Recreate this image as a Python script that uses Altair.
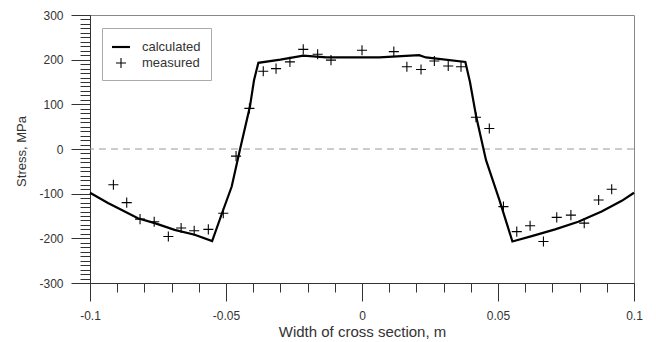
import altair as alt
import pandas as pd

# calculated stress profile
calc_x = [-0.1, -0.0934, -0.0885, -0.0824, -0.0762, -0.0689, -0.0615, -0.0551,
          -0.051, -0.0479, -0.0449, -0.0412, -0.0397, -0.0381,
          -0.030, -0.0216, -0.013, 0.0064, 0.021, 0.0235, 0.038,
          0.0397, 0.042, 0.0456, 0.0505, 0.0553,
          0.0624, 0.071, 0.0795, 0.0881, 0.0955, 0.1]
calc_y = [-98, -121, -136, -155, -166, -181, -192, -206,
          -136, -84, -2, 95, 154, 193,
          200, 209, 205, 205, 210, 205, 195,
          150, 72, -25, -114, -207,
          -195, -180, -163, -140, -116, -98]

# measured stress values
meas_x = [-0.0914, -0.0865, -0.0816, -0.0764, -0.0712, -0.0665, -0.0617, -0.0565, -0.051,
          -0.0463, -0.0414, -0.0363, -0.0316, -0.0265, -0.0216, -0.0163, -0.0114, 0.0,
          0.0117, 0.0165, 0.0217, 0.0266, 0.0317, 0.0364, 0.0419, 0.0468,
          0.052, 0.0569, 0.0618, 0.0667, 0.0716, 0.0768, 0.0817, 0.087, 0.0918]
meas_y = [-80, -120, -157, -163, -196, -177, -183, -180, -144,
          -16, 91, 174, 180, 195, 223, 212, 199, 221,
          218, 184, 178, 197, 186, 184, 71, 46,
          -129, -185, -172, -207, -153, -148, -166, -114, -90]

series_names = ["calculated", "measured"]
x_major = [-0.1, -0.05, 0.0, 0.05, 0.1]
x_labels = ["-0.1", "-0.05", "0", "0.05", "0.1"]
x_minor = [round(-0.1 + 0.01 * i, 2) for i in range(21)]
y_major = [-300, -200, -100, 0, 100, 200, 300]
y_labels = ["-300", "-200", "-100", "0", "100", "200", "300"]
y_minor = list(range(-300, 301, 10))

calc_df = pd.DataFrame({"x": calc_x, "y": calc_y, "series": "calculated"})
meas_df = pd.DataFrame({"x": meas_x, "y": meas_y, "series": "measured"})
zero_df = pd.DataFrame({"y": [0]})

FONT = "Liberation Sans"
TXT = "#333333"
AX = "#333333"

line_sym = "M-1,-0.12H1V0.12H-1Z"
plus_sym = "M-0.56,-0.06H0.56V0.06H-0.56Z M-0.06,-0.56H0.06V0.56H-0.06Z"

x_scale = alt.Scale(domain=[-0.1, 0.1], nice=False, zero=False)
y_scale = alt.Scale(domain=[-300, 300], nice=False)

x_list = "[" + ",".join(f"'{l}'" for l in x_labels) + "]"
y_list = "[" + ",".join(f"'{l}'" for l in y_labels) + "]"
x_step = x_major[1] - x_major[0]
y_step = y_major[1] - y_major[0]

x_axis_major = alt.Axis(
    orient="bottom", values=x_major, grid=False, tickSize=18,
    labelExpr=f"{x_list}[round((datum.value - ({x_major[0]})) / {x_step})]",
    labelFlush=False, labelOverlap=False,
    labelFont=FONT, labelFontSize=12, labelColor=TXT, labelPadding=9,
    domainColor=AX, tickColor=AX,
    title="Width of cross section, m",
    titleFont=FONT, titleFontSize=15, titleFontWeight="normal", titleColor=TXT,
    titleX=272, titleY=41, titleAlign="center", titleBaseline="top",
)
y_axis_major = alt.Axis(
    orient="left", values=y_major, grid=False, tickSize=19,
    labelExpr=f"{y_list}[round((datum.value - ({y_major[0]})) / {y_step})]",
    labelFlush=False, labelOverlap=False,
    labelFont=FONT, labelFontSize=12, labelColor=TXT, labelPadding=8,
    domainColor=AX, tickColor=AX,
    title="Stress, MPa",
    titleFont=FONT, titleFontSize=13, titleFontWeight="normal", titleColor=TXT,
    titleAngle=270, titleX=-69, titleY=136, titleAlign="center", titleBaseline="middle",
)
x_axis_minor = alt.Axis(orient="bottom", values=x_minor, grid=False, tickSize=9,
                        labels=False, domain=False, tickColor=AX, title="")
y_axis_minor = alt.Axis(orient="left", values=y_minor, grid=False, tickSize=10,
                        labels=False, domain=False, tickColor=AX, title="")

zero = alt.Chart(zero_df).mark_rule(color="#999999", strokeWidth=1, strokeDash=[7, 5]).encode(
    y=alt.Y("y:Q", scale=y_scale, axis=None)
)

line = alt.Chart(calc_df).mark_line(color="black", strokeWidth=2.2).encode(
    x=alt.X("x:Q", scale=x_scale, axis=x_axis_major),
    y=alt.Y("y:Q", scale=y_scale, axis=y_axis_major),
)

points = alt.Chart(meas_df).mark_point(filled=True, size=324, color="black", opacity=1, strokeWidth=0).encode(
    x=alt.X("x:Q", scale=x_scale, axis=x_axis_minor),
    y=alt.Y("y:Q", scale=y_scale, axis=y_axis_minor),
    shape=alt.Shape(
        "series:N",
        scale=alt.Scale(domain=series_names, range=[line_sym, plus_sym]),
        legend=alt.Legend(
            title=None, orient="none", legendX=12, legendY=13,
            padding=10, rowPadding=-1, labelOffset=12,
            strokeColor="#aaaaaa", fillColor="white",
            labelFont=FONT, labelFontSize=13, labelColor=TXT,
            symbolSize=324, symbolFillColor="black", symbolStrokeWidth=0, symbolOpacity=1,
        ),
    ),
)

chart = alt.layer(zero, line, points).resolve_axis(x="independent", y="independent").properties(
    width=544, height=268,
    autosize=alt.AutoSizeParams(type="none"),
    padding={"left": 90, "top": 15, "right": 22, "bottom": 59},
    background="white",
).configure_view(stroke="#888888", strokeWidth=1)

chart.save("out.html", embed_options={"renderer": "svg", "actions": False})
